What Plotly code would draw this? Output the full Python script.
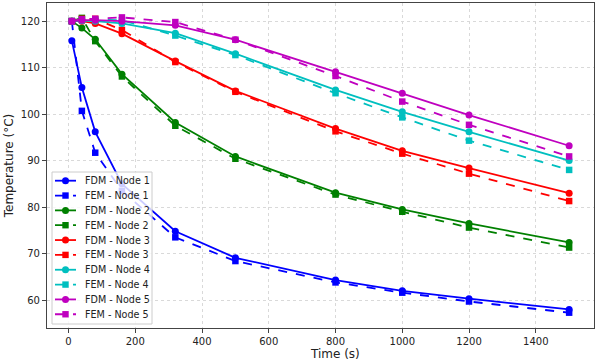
import plotly.graph_objects as go

times = [10, 40, 80, 160, 320, 500, 800, 1000, 1200, 1500]

fdm_node1 = [115.8, 105.7, 96.2, 85.0, 74.8, 69.1, 64.3, 62.0, 60.3, 58.0]
fem_node1 = [120.0, 100.7, 91.7, 83.5, 73.5, 68.4, 63.8, 61.6, 59.7, 57.3]
fdm_node2 = [120.0, 118.5, 116.1, 108.6, 98.2, 90.9, 83.1, 79.5, 76.5, 72.4]
fem_node2 = [120.0, 120.7, 115.7, 108.1, 97.5, 90.4, 82.7, 79.0, 75.6, 71.3]
fdm_node3 = [120.0, 120.0, 119.5, 117.3, 111.4, 105.0, 96.9, 92.1, 88.4, 83.0]
fem_node3 = [120.0, 120.5, 120.5, 118.1, 111.2, 104.8, 96.3, 91.5, 87.2, 81.3]
fdm_node4 = [120.0, 120.1, 120.0, 119.5, 117.4, 113.0, 105.2, 100.5, 96.2, 90.0]
fem_node4 = [120.0, 120.3, 120.3, 120.2, 116.9, 112.7, 104.5, 99.3, 94.3, 88.0]
fdm_node5 = [120.0, 120.2, 120.2, 120.0, 119.1, 116.0, 109.1, 104.5, 99.8, 93.2]
fem_node5 = [120.0, 120.4, 120.5, 120.8, 119.8, 116.0, 108.2, 102.7, 97.7, 90.9]

x_ticks = [0, 200, 400, 600, 800, 1000, 1200, 1400]
y_ticks = [60, 70, 80, 90, 100, 110, 120]

colors = ["#0000ff", "#008000", "#ff0000", "#00bfbf", "#bf00bf"]
fdm = [fdm_node1, fdm_node2, fdm_node3, fdm_node4, fdm_node5]
fem = [fem_node1, fem_node2, fem_node3, fem_node4, fem_node5]

W, H = 600, 362
ML, MR, MT, MB = 47, 6, 3, 34
PW, PH = W - ML - MR, H - MT - MB

def px2x(px):
    return (px - ML) / PW

def py2y(py):
    return (H - MB - py) / PH

fig = go.Figure()
entries = []
for i in range(5):
    c = colors[i]
    fig.add_trace(go.Scatter(
        x=times, y=fdm[i], mode="lines+markers", name=f"FDM - Node {i+1}",
        line=dict(color=c, width=1.8),
        marker=dict(symbol="circle", size=7, color=c)))
    entries.append((f"FDM - Node {i+1}", c, "solid", "circle"))
    fig.add_trace(go.Scatter(
        x=times, y=fem[i], mode="lines+markers", name=f"FEM - Node {i+1}",
        line=dict(color=c, width=1.8, dash="dash"),
        marker=dict(symbol="square", size=6.5, color=c)))
    entries.append((f"FEM - Node {i+1}", c, "dash", "square"))

font_family = "DejaVu Sans"

# Custom compact legend (matplotlib-like)
shapes = []
annotations = []
shapes.append(dict(type="rect", xref="paper", yref="paper",
                   x0=px2x(52), x1=px2x(152), y0=py2y(324), y1=py2y(172),
                   fillcolor="rgba(255,255,255,0.8)",
                   line=dict(color="#cccccc", width=1), layer="above"))
y0 = 180.7
dy = 14.84
for k, (label, c, dash, sym) in enumerate(entries):
    yy = y0 + k * dy
    shapes.append(dict(type="line", xref="paper", yref="paper",
                       x0=px2x(55), x1=px2x(76), y0=py2y(yy), y1=py2y(yy),
                       line=dict(color=c, width=1.8, dash=dash), layer="above"))
    if sym == "circle":
        r = 3.5
        shapes.append(dict(type="circle", xref="paper", yref="paper",
                           x0=px2x(65.5 - r), x1=px2x(65.5 + r),
                           y0=py2y(yy + r), y1=py2y(yy - r),
                           fillcolor=c, line=dict(color=c, width=0), layer="above"))
    else:
        r = 3.2
        shapes.append(dict(type="rect", xref="paper", yref="paper",
                           x0=px2x(65.5 - r), x1=px2x(65.5 + r),
                           y0=py2y(yy + r), y1=py2y(yy - r),
                           fillcolor=c, line=dict(color=c, width=0), layer="above"))
    annotations.append(dict(text=label, xref="paper", yref="paper",
                            x=px2x(82.5), y=py2y(yy), xanchor="left", yanchor="middle",
                            showarrow=False,
                            font=dict(family=font_family, size=9.6, color="#222222")))

annotations.append(dict(text="Time (s)", xref="paper", yref="paper",
                        x=px2x(335), y=py2y(354), xanchor="center", yanchor="middle",
                        showarrow=False,
                        font=dict(family=font_family, size=12, color="#222222")))

axis_common = dict(
    showgrid=True, gridcolor="#d9d9d9", griddash="3px,3px", gridwidth=1,
    showline=True, linecolor="#444444", linewidth=1.2, mirror=True,
    ticks="outside", ticklen=4, tickcolor="#444444",
    tickfont=dict(family=font_family, size=10, color="#222222"),
    zeroline=False, automargin=False,
)

fig.update_layout(
    width=W, height=H,
    margin=dict(l=ML, r=MR, t=MT, b=MB),
    paper_bgcolor="white", plot_bgcolor="white",
    font=dict(family=font_family, color="#222222"),
    showlegend=False,
    shapes=shapes,
    annotations=annotations,
    xaxis=dict(range=[-64.5, 1574.5], tickvals=x_ticks, **axis_common),
    yaxis=dict(range=[54.0, 123.9], tickvals=y_ticks,
               title=dict(text="Temperature (°C)", font=dict(family=font_family, size=12), standoff=4),
               **axis_common),
)

fig.write_html("out.html", config={"displayModeBar": False},
               post_script="document.body.style.margin='0';document.body.style.overflow='hidden';")
